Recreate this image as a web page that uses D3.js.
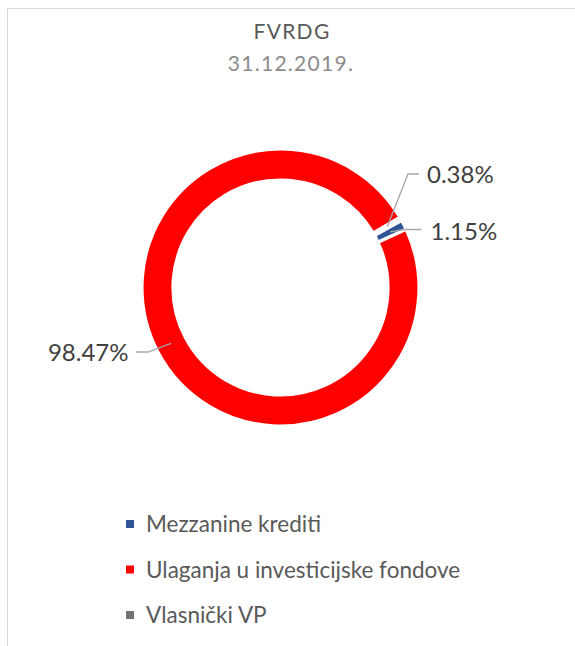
<!DOCTYPE html>
<html>
<head>
<meta charset="utf-8">
<script src="https://cdn.jsdelivr.net/npm/d3@7"></script>
<style>
  html, body { margin: 0; padding: 0; background: #ffffff; }
  svg { display: block; font-family: Lato, "Open Sans", sans-serif; }
</style>
</head>
<body>
<svg id="chart" width="575" height="646"></svg>
<script>
// Portfolio structure of the fund at year end
const categories = ["Mezzanine krediti", "Ulaganja u investicijske fondove", "Vlasnički VP"];
const shares = [1.15, 98.47, 0.38];
const valueLabels = ["1.15%", "98.47%", "0.38%"];
const colors = ["#2F5597", "#FF0000", "#767171"];
const titleLines = ["FVRDG", "31.12.2019."];

const W = 575, H = 646;
const cx = 280.5, cy = 287.5;
const outerR = 138.5, innerR = 107.5;
const firstSliceAngle = 61; // degrees, clockwise from 12 o'clock

const svg = d3.select("#chart");

// chart area frame
svg.append("rect")
  .attr("x", 7.5).attr("y", 8.5)
  .attr("width", W + 20).attr("height", H + 20)
  .attr("fill", "none").attr("stroke", "#d9d9d9").attr("stroke-width", 1);

// title
svg.append("text")
  .attr("x", 292).attr("y", 38.5)
  .attr("text-anchor", "middle")
  .attr("font-size", 21)
  .attr("letter-spacing", 1.3)
  .attr("fill", "#595959")
  .text(titleLines[0]);
svg.append("text")
  .attr("x", 291).attr("y", 70.5)
  .attr("text-anchor", "middle")
  .attr("font-size", 21)
  .attr("letter-spacing", 1.3)
  .attr("fill", "#8c8c8c")
  .text(titleLines[1]);

const data = categories.map((c, i) => ({ name: c, value: shares[i], label: valueLabels[i], color: colors[i] }));

const a0 = firstSliceAngle * Math.PI / 180;
const pie = d3.pie()
  .value(d => d.value)
  .sort(null)
  .startAngle(a0)
  .endAngle(a0 + 2 * Math.PI);

const arcs = pie(data);
const arc = d3.arc().innerRadius(innerR).outerRadius(outerR);
const midArc = d3.arc().innerRadius((innerR + outerR) / 2).outerRadius((innerR + outerR) / 2);

const g = svg.append("g").attr("transform", `translate(${cx},${cy})`);

g.selectAll("path.slice")
  .data(arcs)
  .join("path")
  .attr("class", "slice")
  .attr("d", arc)
  .attr("fill", d => d.data.color)
  .attr("stroke", "#ffffff")
  .attr("stroke-width", 3.2)
  .attr("stroke-linejoin", "miter");

// data label placement: leader anchor on the ring, elbow and end points relative to centre, text spot
const labelLayout = [
  { anchorAngle: null, elbow: [124, -58], end: [141, -58], text: [150, -47.5], anchor: "start" },
  { anchorAngle: 243, elbow: [-132.5, 64.5], end: [-144.5, 64.5], text: [-152, 73.5], anchor: "end" },
  { anchorAngle: null, elbow: [127.5, -113.5], end: [138.5, -113.5], text: [146.5, -104.5], anchor: "start" }
];

const rMid = (innerR + outerR) / 2;
arcs.forEach((d, i) => {
  const L = labelLayout[i];
  let p;
  if (L.anchorAngle === null) {
    p = midArc.centroid(d);
  } else {
    const a = L.anchorAngle * Math.PI / 180;
    p = [rMid * Math.sin(a), -rMid * Math.cos(a)];
  }
  g.append("polyline")
    .attr("points", [p, L.elbow, L.end].map(q => q.join(",")).join(" "))
    .attr("fill", "none")
    .attr("stroke", "#a6a6a6")
    .attr("stroke-width", 1.3);
  g.append("text")
    .attr("x", L.text[0]).attr("y", L.text[1])
    .attr("text-anchor", L.anchor)
    .attr("font-size", 24)
    .attr("fill", "#404040")
    .text(d.data.label);
});

// legend
const legendY = d3.scalePoint().domain(categories).range([524, 615]);
const legend = svg.append("g");
const items = legend.selectAll("g.item")
  .data(data)
  .join("g")
  .attr("class", "item")
  .attr("transform", d => `translate(0,${legendY(d.name)})`);
items.append("rect")
  .attr("x", 126).attr("y", -4)
  .attr("width", 8).attr("height", 8)
  .attr("fill", d => d.color);
items.append("text")
  .attr("x", 146).attr("y", 8)
  .attr("font-size", 22.5)
  .attr("fill", "#595959")
  .text(d => d.name);
</script>
</body>
</html>
